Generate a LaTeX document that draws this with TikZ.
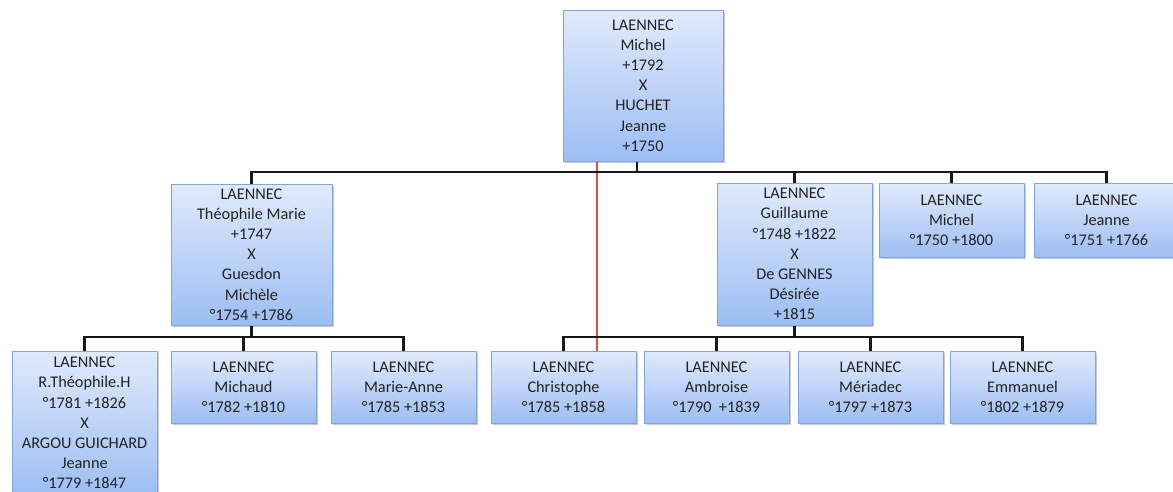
\documentclass[tikz,border=0pt]{standalone}
\usepackage{fontspec}
\setmainfont{Carlito}
\usetikzlibrary{shadows}
\definecolor{boxtop}{RGB}{224,234,252}
\definecolor{boxbot}{RGB}{156,190,243}
\definecolor{boxline}{RGB}{128,164,220}
\definecolor{txt}{RGB}{34,34,34}
\definecolor{wire}{RGB}{24,24,24}
\definecolor{redwire}{RGB}{222,78,72}
\tikzset{
  person/.style={draw=boxline, line width=1pt, top color=boxtop, bottom color=boxbot,
    align=center, text=txt, inner sep=0pt,
    font=\fontsize{16.3}{20.2}\selectfont,
    drop shadow={shadow xshift=1.5pt, shadow yshift=-2pt, opacity=0.35, fill=black!60}},
  link/.style={draw=wire, line width=2.2pt},
  redlink/.style={draw=redwire, line width=2pt}
}
\begin{document}
\begin{tikzpicture}[x=1pt,y=-1pt]
\useasboundingbox (0,0) rectangle (1173,491);
% level 1
\node[person, minimum width=160pt, minimum height=151pt] (top) at (643,85.5)
  {LAENNEC\\Michel\\+1792\\X\\HUCHET\\Jeanne\\+1750};
% level 2
\node[person, minimum width=161pt, minimum height=141pt] (theo) at (251.5,254.5)
  {LAENNEC\\Théophile Marie\\+1747\\X\\Guesdon\\Michèle\\°1754 +1786};
\node[person, minimum width=155pt, minimum height=142pt] (guil) at (794.5,254)
  {LAENNEC\\Guillaume\\°1748 +1822\\X\\De GENNES\\Désirée\\+1815};
\node[person, minimum width=145pt, minimum height=74pt] (mich) at (951.5,220)
  {LAENNEC\\Michel\\°1750 +1800};
\node[person, minimum width=145pt, minimum height=74pt] (jean) at (1106.5,220)
  {LAENNEC\\Jeanne\\°1751 +1766};
% level 3 left
\node[person, minimum width=145pt, minimum height=144pt] (rtheo) at (84.5,423)
  {LAENNEC\\R.Théophile.H\\°1781 +1826\\X\\ARGOU GUICHARD\\Jeanne\\°1779 +1847};
\node[person, minimum width=145pt, minimum height=72pt] (michaud) at (243.5,387)
  {LAENNEC\\Michaud\\°1782 +1810};
\node[person, minimum width=145pt, minimum height=72pt] (marie) at (403.5,387)
  {LAENNEC\\Marie-Anne\\°1785 +1853};
% level 3 right
\node[person, minimum width=145pt, minimum height=72pt] (chris) at (563.5,387)
  {LAENNEC\\Christophe\\°1785 +1858};
\node[person, minimum width=145pt, minimum height=72pt] (ambr) at (716.5,387)
  {LAENNEC\\Ambroise\\°1790\ \ +1839};
\node[person, minimum width=145pt, minimum height=72pt] (meri) at (870.5,387)
  {LAENNEC\\Mériadec\\°1797 +1873};
\node[person, minimum width=145pt, minimum height=72pt] (emma) at (1022.5,387)
  {LAENNEC\\Emmanuel\\°1802 +1879};
% bus levels
\coordinate (busA) at (0,172);
\coordinate (busB) at (0,337);
\coordinate (redx) at (597,0);
\coordinate (topx) at (637,0);
% red line
\draw[redlink] (top.south -| redx) -- (chris.north -| redx);
% top bus
\draw[link] (top.south -| topx) -- (topx |- busA);
\draw[link] (theo.north) |- (jean.north |- busA) -- (jean.north);
\draw[link] (guil.north) -- (guil.north |- busA);
\draw[link] (mich.north) -- (mich.north |- busA);
% left bus
\draw[link] (theo.south) -- (theo.south |- busB);
\draw[link] (rtheo.north) |- (marie.north |- busB) -- (marie.north);
\draw[link] (michaud.north) -- (michaud.north |- busB);
% right bus
\draw[link] (guil.south) -- (guil.south |- busB);
\draw[link] (chris.north) |- (emma.north |- busB) -- (emma.north);
\draw[link] (ambr.north) -- (ambr.north |- busB);
\draw[link] (meri.north) -- (meri.north |- busB);
\end{tikzpicture}
\end{document}
